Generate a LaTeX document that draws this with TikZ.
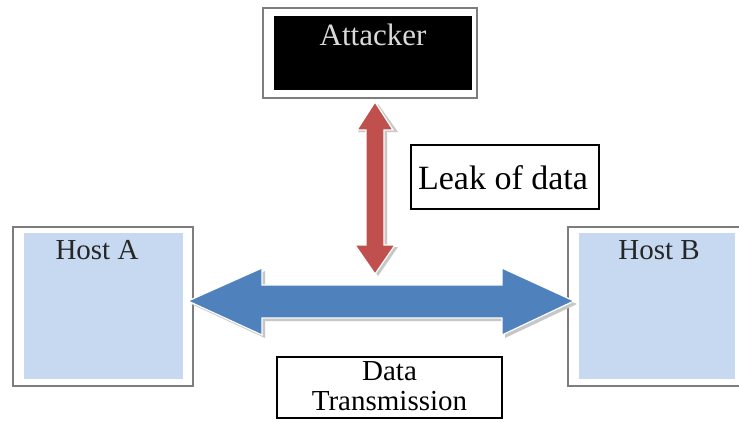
\documentclass[tikz,border=0pt]{standalone}
\usepackage{fontspec}
\setmainfont{Liberation Serif}
\usetikzlibrary{calc}
\definecolor{hostfill}{RGB}{198,217,240}
\definecolor{flowblue}{RGB}{79,129,189}
\definecolor{leakred}{RGB}{192,80,77}
\definecolor{frame}{RGB}{125,125,125}
\tikzset{
  outerbox/.style={draw=frame, line width=2.5pt, fill=white, inner sep=0pt},
  fillbox/.style={fill=hostfill, inner sep=0pt},
  labelbox/.style={draw=black, line width=1.1pt, fill=white, inner sep=0pt},
  hosttext/.style={font=\fontsize{29}{32}\selectfont, text=black!85},
  arrowshade/.style={fill=black!22, draw=none},
  bluearrow/.style={fill=flowblue, draw=white, line width=1.2pt, line join=miter},
  redarrow/.style={fill=leakred, draw=white, line width=1.2pt, line join=miter}
}
\begin{document}
\begin{tikzpicture}[x=1pt, y=-1pt]
\useasboundingbox (0,0) rectangle (739,421);
\fill[white] (0,0) rectangle (739,421);

% attacker
\node[outerbox, minimum width=214pt, minimum height=90pt] (attacker) at (370,53) {};
\node[fill=black, inner sep=0pt, minimum width=198pt, minimum height=74pt] (attackerfill) at (373,53) {};
\node[font=\fontsize{31}{33}\selectfont, text=black!15] (attackertext) at (373,35) {Attacker};

% host A
\node[outerbox, minimum width=180pt, minimum height=159pt] (hostA) at (103,306.5) {};
\node[fillbox, minimum width=159pt, minimum height=146pt] (hostAfill) at (103.5,306) {};
\node[hosttext] (hostAtext) at (97,250) {Host A};

% host B
\node[outerbox, minimum width=172pt, minimum height=159pt] (hostB) at (654,306.5) {};
\node[fillbox, minimum width=156pt, minimum height=146pt] (hostBfill) at (657,306) {};
\node[hosttext] (hostBtext) at (659,250) {Host B};

% arrow end points
\coordinate (leakTop) at (375,102);
\coordinate (flowL) at (188,301);

% data transmission arrow (shadow, then body)
\fill[arrowshade] ($(flowL)+(3,3)$) -- ++(74,-33) -- ++(0,17) -- ++(240,0) -- ++(0,-17)
  -- ++(72,33) -- ++(-72,34) -- ++(0,-17) -- ++(-240,0) -- ++(0,17) -- cycle;
\draw[bluearrow] (flowL) -- ++(74,-33) -- ++(0,17) -- ++(240,0) -- ++(0,-17)
  -- ++(72,33) -- ++(-72,34) -- ++(0,-17) -- ++(-240,0) -- ++(0,17) -- cycle;

% leak arrow (shadow, then body)
\fill[arrowshade] ($(leakTop)+(3,2)$) -- ++(20,28) -- ++(-11,0) -- ++(0,115) -- ++(11,0)
  -- ++(-20,29) -- ++(-20,-29) -- ++(11,0) -- ++(0,-115) -- ++(-11,0) -- cycle;
\draw[redarrow] (leakTop) -- ++(18,28) -- ++(-9,0) -- ++(0,115) -- ++(11,0)
  -- ++(-20,29) -- ++(-20,-29) -- ++(11,0) -- ++(0,-115) -- ++(-9,0) -- cycle;

% text labels
\node[labelbox, minimum width=188pt, minimum height=64pt] (leak) at (505,177) {};
\node[font=\fontsize{34}{36}\selectfont] (leaktext) at (503,178) {Leak of data};

\node[labelbox, minimum width=225pt, minimum height=61pt] (trans) at (389.5,387.5) {};
\node[font=\fontsize{29}{33}\selectfont, align=center] (transtext) at (389.5,386)
  {Data\\[-3pt]Transmission};
\end{tikzpicture}
\end{document}
